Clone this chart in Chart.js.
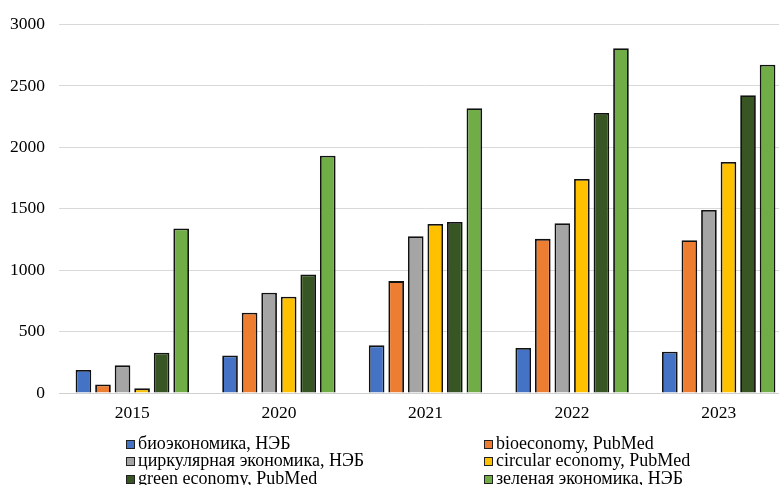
<!DOCTYPE html>
<html>
<head>
<meta charset="utf-8">
<script src="https://cdn.jsdelivr.net/npm/chart.js@4"></script>
<style>
  html, body { margin: 0; padding: 0; background: #ffffff; overflow: hidden; }
  #wrap { position: relative; width: 792px; height: 485px; }
</style>
</head>
<body>
<div id="wrap"><canvas id="c"></canvas></div>
<script>
// Publication counts by year and source
const years = ['2015', '2020', '2021', '2022', '2023'];

const bioRu       = [187, 306, 388, 366, 336];     // биоэкономика, НЭБ
const bioPubMed   = [70, 653, 911, 1255, 1244];    // bioeconomy, PubMed
const circRu      = [225, 816, 1276, 1382, 1490];  // циркулярная экономика, НЭБ
const circPubMed  = [38, 783, 1376, 1742, 1880];   // circular economy, PubMed
const greenPubMed = [328, 965, 1393, 2279, 2425];  // green economy, PubMed
const greenRu     = [1339, 1932, 2319, 2807, 2672];// зеленая экономика, НЭБ

const seriesLabels = [
  'биоэкономика, НЭБ',
  'bioeconomy, PubMed',
  'циркулярная экономика, НЭБ',
  'circular economy, PubMed',
  'green economy, PubMed',
  'зеленая экономика, НЭБ'
];
const seriesValues = [bioRu, bioPubMed, circRu, circPubMed, greenPubMed, greenRu];
const seriesColors = ['#4472C4', '#ED7D31', '#A5A5A5', '#FFC000', '#375623', '#70AD47'];

const yTicks = [0, 500, 1000, 1500, 2000, 2500, 3000];

const FONT = "'Liberation Serif', 'Times New Roman', serif";

// Two-column legend drawn under the axis
const legendPlugin = {
  id: 'gridLegend',
  afterDraw(chart) {
    const ctx = chart.ctx;
    const colX = [126, 484];
    const rowY = [444, 461, 479];
    ctx.save();
    ctx.font = '18px ' + FONT;
    ctx.textBaseline = 'alphabetic';
    ctx.textAlign = 'left';
    chart.data.datasets.forEach((ds, i) => {
      const x = colX[i % 2];
      const y = rowY[Math.floor(i / 2)];
      ctx.fillStyle = ds.backgroundColor;
      ctx.fillRect(x, y - 4, 9, 9);
      ctx.strokeStyle = '#222222';
      ctx.lineWidth = 1;
      ctx.strokeRect(x + 0.5, y - 3.5, 8, 8);
      ctx.fillStyle = '#000000';
      ctx.fillText(ds.label, x + 12, y + 5);
    });
    ctx.restore();
  }
};

new Chart(document.getElementById('c'), {
  type: 'bar',
  data: {
    labels: years,
    datasets: seriesValues.map((vals, i) => ({
      label: seriesLabels[i],
      data: vals,
      backgroundColor: seriesColors[i],
      borderColor: '#111111',
      borderWidth: 1.8,
      categoryPercentage: 0.8,
      barPercentage: 0.8
    }))
  },
  options: {
    responsive: true,
    maintainAspectRatio: false,
    animation: false,
    devicePixelRatio: 1,
    layout: { padding: { left: 10, right: 0, top: 15, bottom: 51 } },
    plugins: {
      legend: { display: false },
      tooltip: { enabled: false }
    },
    scales: {
      x: {
        grid: { display: false, drawTicks: false },
        border: { display: true, color: '#d0d0d0', width: 1 },
        ticks: { color: '#000000', font: { family: FONT, size: 17.5 }, padding: 10 }
      },
      y: {
        min: 0,
        max: 3000,
        afterBuildTicks(axis) { axis.ticks = yTicks.map(v => ({ value: v })); },
        afterFit(axis) { axis.width = 49; },
        grid: { color: '#d9d9d9', lineWidth: 1, drawTicks: false },
        border: { display: false },
        ticks: {
          color: '#000000',
          font: { family: FONT, size: 17.5 },
          padding: 14,
          callback: v => String(v)
        }
      }
    }
  },
  plugins: [legendPlugin]
});
</script>
</body>
</html>
